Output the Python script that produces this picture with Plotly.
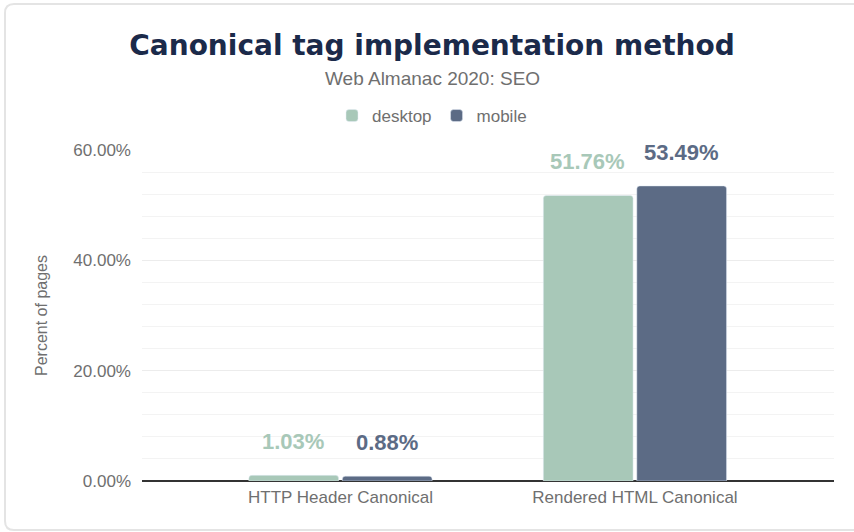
import plotly.graph_objects as go

categories = ["HTTP Header Canonical", "Rendered HTML Canonical"]
desktop = [1.03, 51.76]
mobile = [0.88, 53.49]
y_ticks = [0, 20, 40, 60]
y_tick_labels = ["0.00%", "20.00%", "40.00%", "60.00%"]

DESKTOP_C = "#a8c8b8"
MOBILE_C = "#5c6b85"
GRAY = "#6f6f6f"
FONT = "Liberation Sans, Arial"

fig = go.Figure()
fig.add_trace(go.Bar(name="desktop", x=categories, y=desktop, marker_color=DESKTOP_C))
fig.add_trace(go.Bar(name="mobile", x=categories, y=mobile, marker_color=MOBILE_C))

for i, c in enumerate(categories):
    fig.add_annotation(x=c, y=desktop[i], text=f"{desktop[i]:.2f}%", showarrow=False,
                       xshift=-47, yshift=19, yanchor="bottom",
                       font=dict(family=FONT, size=22, color=DESKTOP_C, weight="bold"))
    fig.add_annotation(x=c, y=mobile[i], text=f"{mobile[i]:.2f}%", showarrow=False,
                       xshift=47, yshift=19, yanchor="bottom",
                       font=dict(family=FONT, size=22, color=MOBILE_C, weight="bold"))

# card border (rounded rectangle) in paper coords
L, R, T, B = 142, 834, 150, 481
def px(x):
    return (x - L) / (R - L)
def py(y):
    return (B - y) / (B - T)
x0, x1, y0, y1 = px(5), px(880), py(530), py(4)
rx, ry = 9 / (R - L), 9 / (B - T)
path = (f"M {x0+rx},{y1} L {x1-rx},{y1} Q {x1},{y1} {x1},{y1-ry} L {x1},{y0+ry} "
        f"Q {x1},{y0} {x1-rx},{y0} L {x0+rx},{y0} Q {x0},{y0} {x0},{y0+ry} "
        f"L {x0},{y1-ry} Q {x0},{y1} {x0+rx},{y1} Z")
fig.add_shape(type="path", path=path, xref="paper", yref="paper",
              line=dict(color="#e4e4e4", width=2), layer="below")

fig.update_layout(
    width=854, height=532,
    margin=dict(l=L, r=854 - R, t=T, b=532 - B),
    paper_bgcolor="white", plot_bgcolor="white",
    barmode="group", bargap=0.365, bargroupgap=0.04, barcornerradius=3,
    title=dict(text="<b>Canonical tag implementation method</b>", x=432 / 854, xanchor="center",
               y=1 - 45 / 532, yanchor="middle", xref="container", yref="container",
               font=dict(family="DejaVu Sans, Liberation Sans", size=28, color="#1b2a4a")),
    legend=dict(orientation="h", x=px(432), xanchor="center", y=py(116), yanchor="middle",
                font=dict(family=FONT, size=17, color=GRAY),
                itemwidth=30, traceorder="normal"),
    font=dict(family=FONT, color=GRAY),
    showlegend=True,
)
fig.add_annotation(text="Web Almanac 2020: SEO", xref="paper", yref="paper",
                   x=px(432), y=py(78), showarrow=False, yanchor="middle",
                   font=dict(family=FONT, size=19, color=GRAY))

fig.update_xaxes(range=[-0.674, 1.676], showgrid=False, ticks="", showline=False,
                 ticklabelstandoff=4,
                 tickfont=dict(size=17, color=GRAY, family=FONT))
fig.update_yaxes(range=[0, 60], tickvals=y_ticks, ticktext=y_tick_labels,
                 showgrid=True, gridcolor="#ececec", gridwidth=1,
                 minor=dict(dtick=4, showgrid=True, gridcolor="#f3f3f3", gridwidth=1),
                 zeroline=True, zerolinecolor="#333333", zerolinewidth=1.5,
                 ticks="", ticklabelstandoff=10,
                 tickfont=dict(size=17, color=GRAY, family=FONT),
                 title=dict(text="Percent of pages", standoff=21,
                            font=dict(size=16, color=GRAY, family=FONT)))

fig.write_html("out.html", config={"displayModeBar": False},
               post_script="document.body.style.margin='0';")
